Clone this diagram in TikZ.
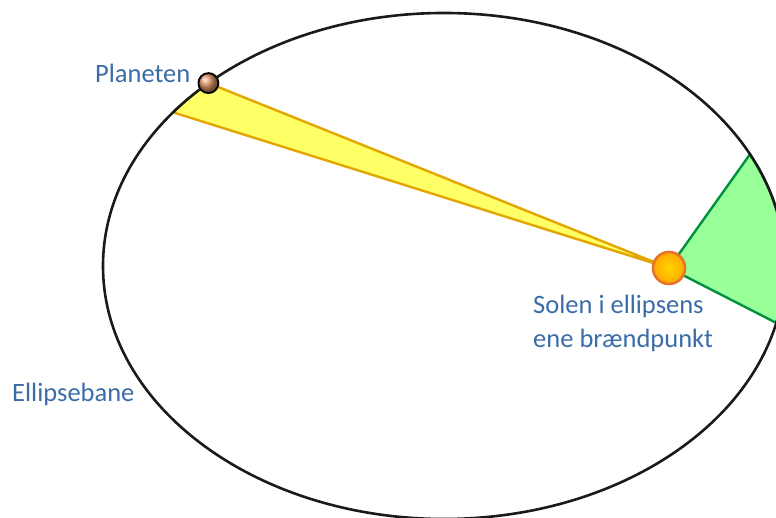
\documentclass[tikz,border=0pt]{standalone}
\usepackage{fontspec}
\setmainfont{Carlito}
\usepackage{tikz}
\usetikzlibrary{positioning, calc, shadings}
\definecolor{keplerblue}{HTML}{3A6DA8}
\definecolor{keplerorbit}{HTML}{1A1A1A}
\definecolor{kepleryellow}{HTML}{FFFF66}
\definecolor{keplergold}{HTML}{E3A600}
\definecolor{keplergreen}{HTML}{99FF99}
\definecolor{keplergreendark}{HTML}{00913C}
\definecolor{keplersunring}{HTML}{E8742A}
\definecolor{keplersuncore}{HTML}{FFD500}
\definecolor{keplersunedge}{HTML}{FFA800}
\definecolor{keplerbrown}{HTML}{DA9260}

\begin{document}
\begin{tikzpicture}[
  x=1pt, y=1pt,
  lbl/.style={font=\fontsize{26.5}{34}\selectfont, text=keplerblue, inner sep=0pt, align=left},
  wedgeY/.style={fill=kepleryellow, draw=keplergold, line width=2.4pt, line join=round},
  wedgeG/.style={fill=keplergreen, draw=keplergreendark, line width=2.4pt, line join=round},
  orbit/.style={draw=keplerorbit, line width=2.6pt}
]
\useasboundingbox (0,0) rectangle (776,518);
\clip (0,0) rectangle (776,518);

\coordinate (c) at (444,252);
\coordinate (f) at (669,250);

% areas swept by the radius vector
\draw[wedgeY] (f) -- ($(c)+(133.7:341pt and 253pt)$)
  arc[start angle=133.7, end angle=142.6, x radius=341pt, y radius=253pt] -- cycle;
\draw[wedgeG] (f) -- ($(c)+(-13:341pt and 253pt)$)
  arc[start angle=-13, end angle=26.2, x radius=341pt, y radius=253pt] -- cycle;

% orbit
\draw[orbit] (c) ellipse[x radius=341pt, y radius=253pt];

% bodies
\node[circle, minimum size=32pt, inner sep=0pt, draw=keplersunring, line width=2.6pt,
  inner color=keplersuncore, outer color=keplersunedge] (sol) at (f) {};
\node[circle, minimum size=20pt, inner sep=0pt, draw=black, line width=1.8pt,
  ball color=keplerbrown] (planet) at ($(c)+(133.7:341pt and 253pt)$) {};

% labels
\node[lbl, anchor=base west] (tplanet) at (95,435) {Planeten};
\node[lbl, anchor=base west] (tsol) at (533,170) {Solen i ellipsens\\ene brændpunkt};
\node[lbl, anchor=base west] (tbane) at (12,116) {Ellipsebane};
\end{tikzpicture}
\end{document}
